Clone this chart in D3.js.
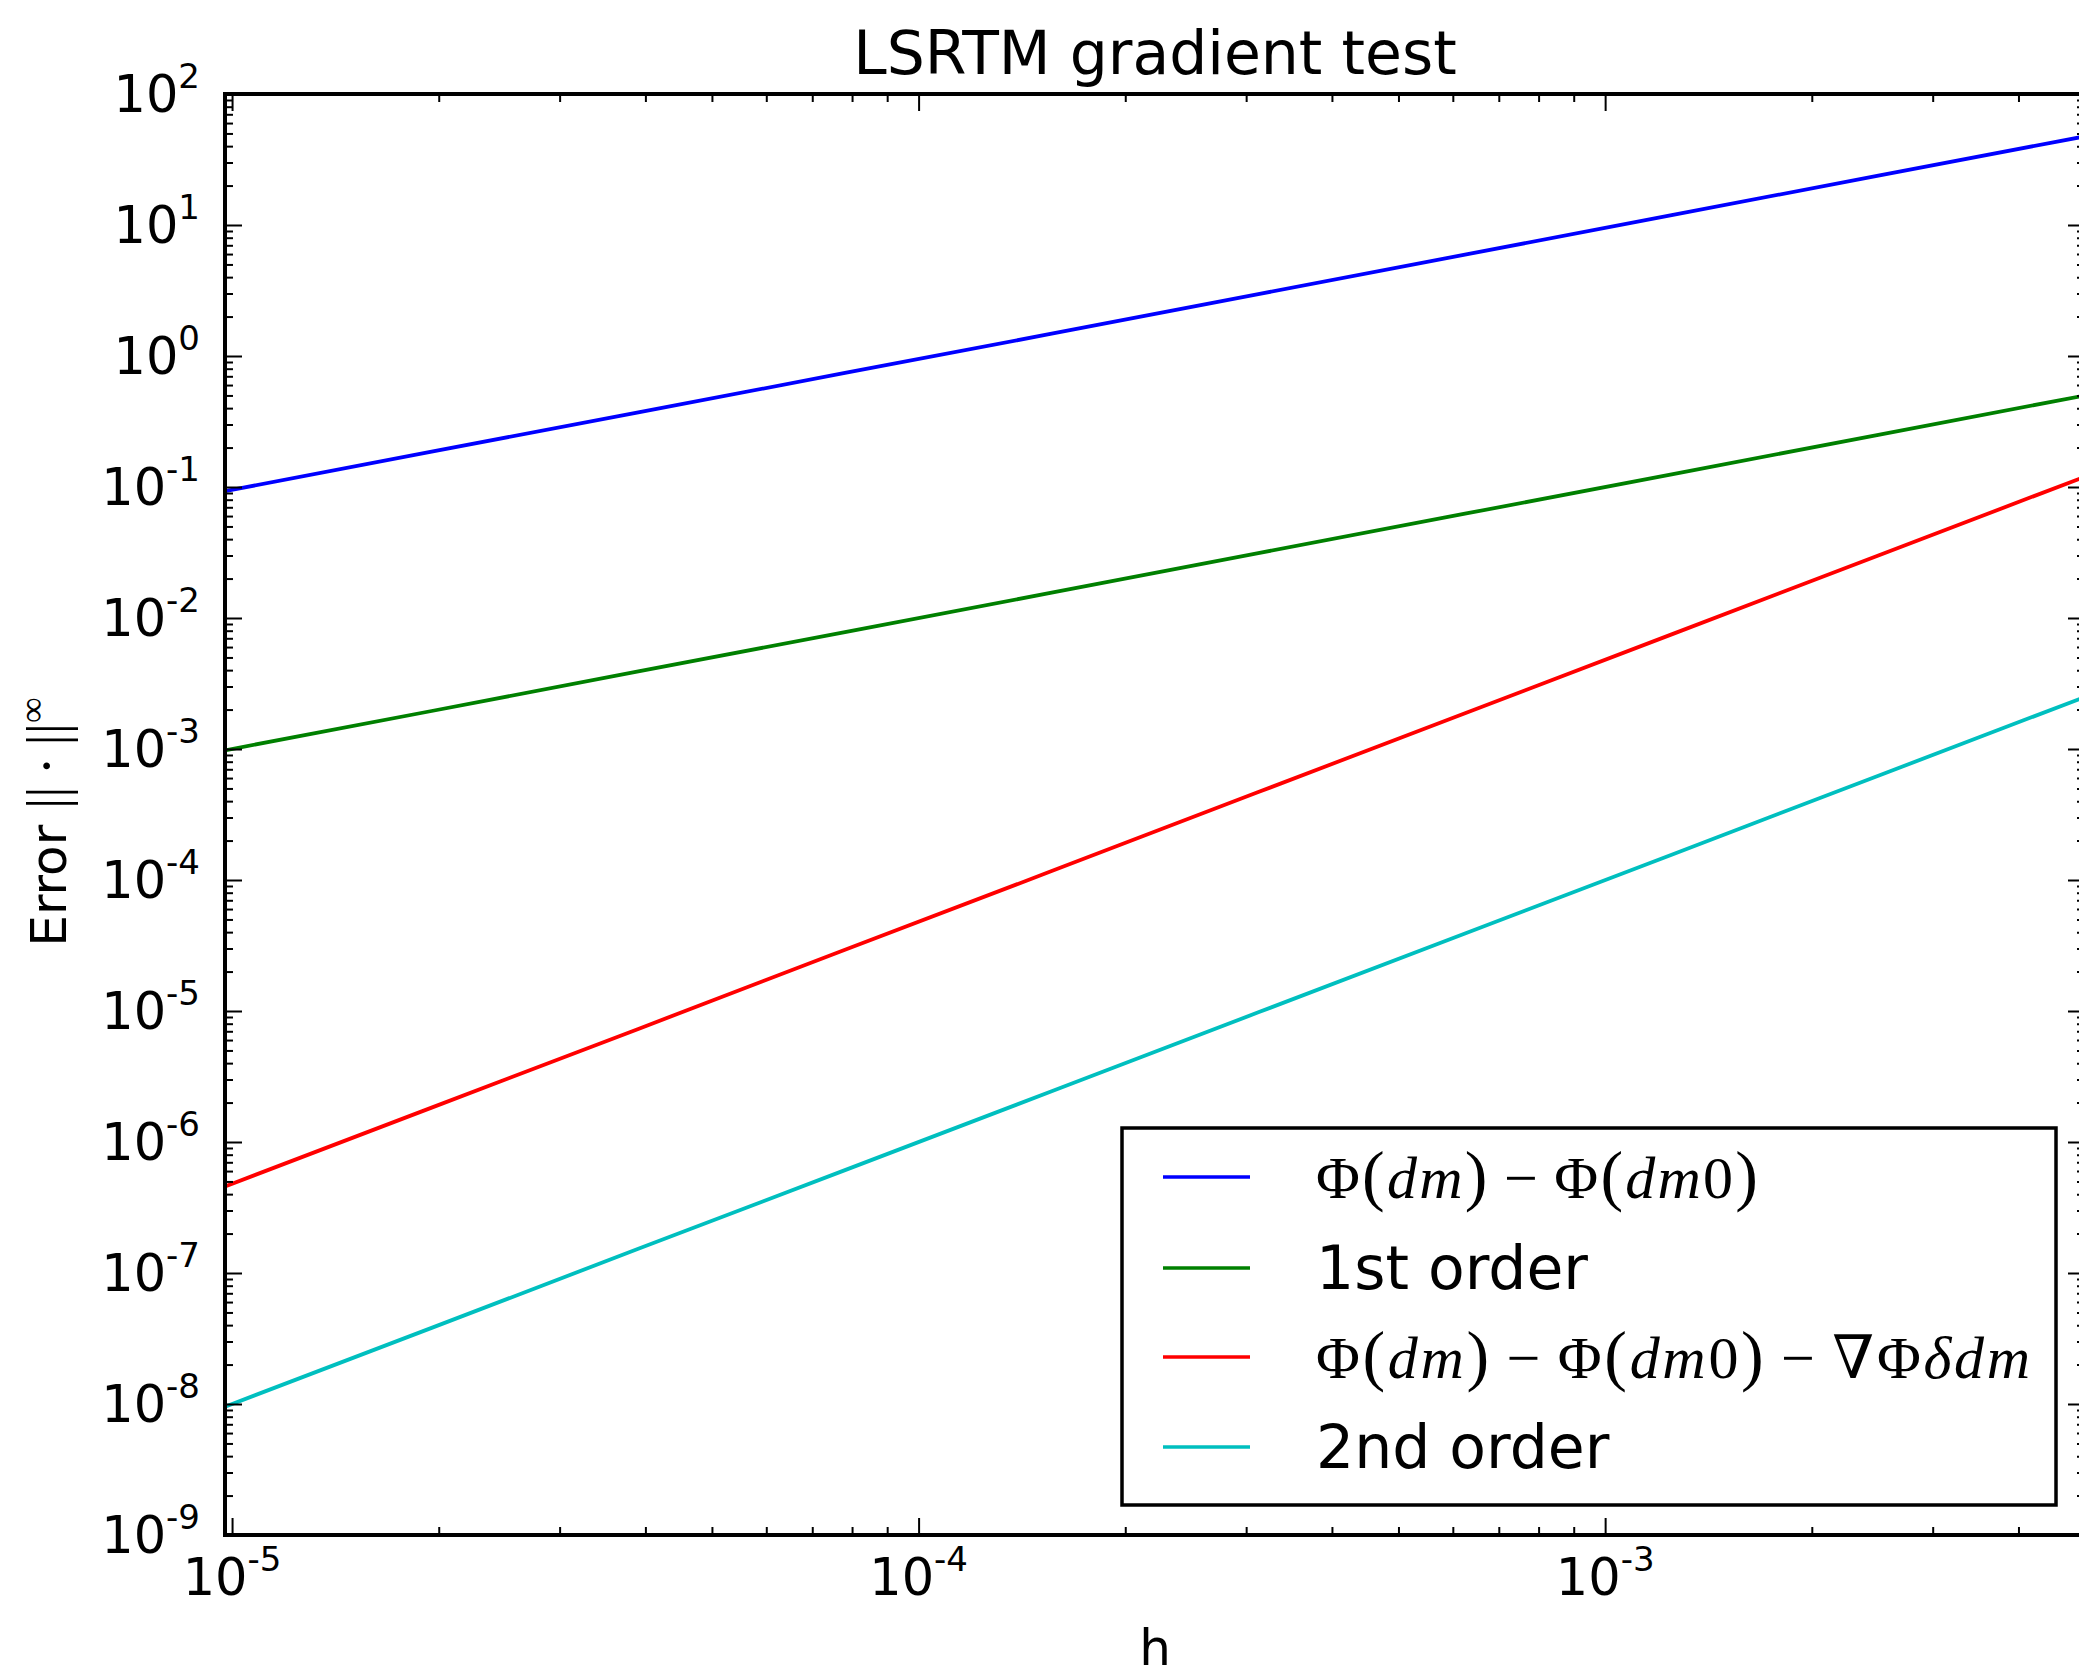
<!doctype html>
<html>
<head>
<meta charset="UTF-8">
<script src="https://d3js.org/d3.v7.min.js"></script>
<style>
body { margin: 0; background: #fff; }
svg { display: block; font-family: "DejaVu Sans", sans-serif; }
.tick line { stroke: #000; stroke-width: 2; }
.math { font-family: "Liberation Serif", "DejaVu Serif", serif; }
</style>
</head>
<body>
<script>
var hVals = [9.766e-6, 1.953e-5, 3.906e-5, 7.8125e-5, 1.5625e-4, 3.125e-4, 6.25e-4, 1.25e-3, 2.5e-3, 5e-3];
var errDiff = [0.093, 0.186, 0.371, 0.742, 1.48, 2.97, 5.94, 11.9, 23.8, 47.5];
var firstOrder = [9.77e-4, 1.95e-3, 3.91e-3, 7.81e-3, 0.0156, 0.0313, 0.0625, 0.125, 0.25, 0.5];
var errGrad = [4.58e-7, 1.83e-6, 7.3e-6, 2.93e-5, 1.17e-4, 4.69e-4, 1.875e-3, 7.5e-3, 0.030, 0.12];
var secondOrder = [9.54e-9, 3.81e-8, 1.53e-7, 6.1e-7, 2.44e-6, 9.77e-6, 3.9e-5, 1.56e-4, 6.25e-4, 2.5e-3];

var seriesNames = ["Φ(dm) − Φ(dm0)", "1st order", "Φ(dm) − Φ(dm0) − ∇Φδdm", "2nd order"];
var seriesMath = [true, false, true, false];
var seriesColors = ["#0000ff", "#008000", "#ff0000", "#00bfbf"];
var seriesData = [errDiff, firstOrder, errGrad, secondOrder];

var yExps = [2, 1, 0, -1, -2, -3, -4, -5, -6, -7, -8, -9];
var xExps = [-5, -4, -3];

var W = 2079, H = 1668;
var pLeft = 225, pTop = 94, pRight = 2085, pBottom = 1535;

var svg = d3.select("body").append("svg")
    .attr("width", W)
    .attr("height", H);

var x = d3.scaleLog().domain(d3.extent(hVals)).range([pLeft, pRight]);
var y = d3.scaleLog().domain([1e-9, 1e2]).range([pBottom, pTop]);

// minor tick values 2..9 x 10^k inside the domain
function minorTicks(scale, kmin, kmax) {
    var out = [];
    var d = scale.domain();
    for (var k = kmin; k <= kmax; k++) {
        for (var m = 2; m <= 9; m++) {
            var v = m * Math.pow(10, k);
            if (v >= d[0] && v <= d[1]) out.push(v);
        }
    }
    return out;
}
var xMajor = xExps.map(function(e) { return Math.pow(10, e); });
var yMajor = yExps.map(function(e) { return Math.pow(10, e); });
var xMinor = minorTicks(x, -6, -2);
var yMinor = minorTicks(y, -9, 1);

svg.append("clipPath").attr("id", "plotclip")
  .append("rect")
    .attr("x", pLeft).attr("y", pTop)
    .attr("width", pRight - pLeft).attr("height", pBottom - pTop);

// the lines
var line = d3.line()
    .x(function(d) { return x(d[0]); })
    .y(function(d) { return y(d[1]); });

svg.append("g").attr("clip-path", "url(#plotclip)")
  .selectAll("path")
    .data(seriesData)
    .enter().append("path")
    .attr("d", function(vals) { return line(vals.map(function(v, i) { return [hVals[i], v]; })); })
    .attr("fill", "none")
    .attr("stroke", function(d, i) { return seriesColors[i]; })
    .attr("stroke-width", 3.8);

// ticks on all four sides, pointing inward
function tickAxis(axis, tr, vals, size) {
    var g = svg.append("g")
        .attr("transform", tr)
        .call(axis.tickValues(vals).tickSize(-size).tickSizeOuter(0).tickFormat(""));
    g.select(".domain").remove();
}
tickAxis(d3.axisLeft(y), "translate(" + pLeft + ",0)", yMajor, 17);
tickAxis(d3.axisLeft(y), "translate(" + pLeft + ",0)", yMinor, 8);
tickAxis(d3.axisRight(y), "translate(" + pRight + ",0)", yMajor, 17);
tickAxis(d3.axisRight(y), "translate(" + pRight + ",0)", yMinor, 8);
tickAxis(d3.axisBottom(x), "translate(0," + pBottom + ")", xMajor, 17);
tickAxis(d3.axisBottom(x), "translate(0," + pBottom + ")", xMinor, 8);
tickAxis(d3.axisTop(x), "translate(0," + pTop + ")", xMajor, 17);
tickAxis(d3.axisTop(x), "translate(0," + pTop + ")", xMinor, 8);

svg.append("rect")
    .attr("x", pLeft).attr("y", pTop)
    .attr("width", pRight - pLeft).attr("height", pBottom - pTop)
    .attr("fill", "none")
    .attr("stroke", "#000")
    .attr("stroke-width", 4);

// 10^n tick labels
function powLabel(sel, e) {
    sel.append("tspan").text("10");
    sel.append("tspan").attr("font-size", 34).attr("dy", -24).text(e);
}
svg.append("g").selectAll("text")
    .data(yExps)
    .enter().append("text")
    .attr("x", 200)
    .attr("y", function(e) { return y(Math.pow(10, e)) + 18; })
    .attr("text-anchor", "end")
    .attr("font-size", 51)
    .each(function(e) { powLabel(d3.select(this), e); });

svg.append("g").selectAll("text")
    .data(xExps)
    .enter().append("text")
    .attr("x", function(e) { return x(Math.pow(10, e)); })
    .attr("y", 1595)
    .attr("text-anchor", "middle")
    .attr("font-size", 51)
    .each(function(e) { powLabel(d3.select(this), e); });

// title and axis labels
svg.append("text")
    .attr("x", (pLeft + pRight) / 2).attr("y", 74)
    .attr("text-anchor", "middle")
    .attr("font-size", 60)
    .text("LSRTM gradient test");

svg.append("text")
    .attr("x", (pLeft + pRight) / 2).attr("y", 1665)
    .attr("text-anchor", "middle")
    .attr("font-size", 50)
    .text("h");

var ylab = svg.append("text")
    .attr("transform", "translate(66,822) rotate(-90)")
    .attr("text-anchor", "middle")
    .attr("font-size", 50);
ylab.append("tspan").text("Error ");
ylab.append("tspan").attr("class", "math").attr("font-size", 56).text("||\u2009·\u2009||");
ylab.append("tspan").attr("class", "math").attr("font-size", 36).attr("dy", -22).text("∞");

// legend
var rowY = [1177, 1268, 1357, 1447];
var mathWidth = [442, 714];
var legend = svg.append("g");
legend.append("rect")
    .attr("x", 1122).attr("y", 1128)
    .attr("width", 934).attr("height", 377)
    .attr("fill", "#fff")
    .attr("stroke", "#000")
    .attr("stroke-width", 3.5);

var mi = 0;
seriesNames.forEach(function(name, i) {
    legend.append("line")
        .attr("x1", 1163).attr("x2", 1250)
        .attr("y1", rowY[i]).attr("y2", rowY[i])
        .attr("stroke", seriesColors[i])
        .attr("stroke-width", 3.4);
    var t = legend.append("text")
        .attr("x", 1316).attr("y", rowY[i] + 21)
        .attr("font-size", 60);
    if (seriesMath[i]) {
        t.attr("class", "math");
        name.split("").forEach(function(c) {
            var ts = t.append("tspan").text(c === " " ? "\u2009" : c);
            if (/[a-zδ]/.test(c)) ts.attr("font-style", "italic");
            if (c === "(" || c === ")") ts.attr("font-size", 68);
        });
        t.attr("textLength", mathWidth[mi++]).attr("lengthAdjust", "spacing");
    } else {
        t.text(name);
    }
});
</script>
</body>
</html>
